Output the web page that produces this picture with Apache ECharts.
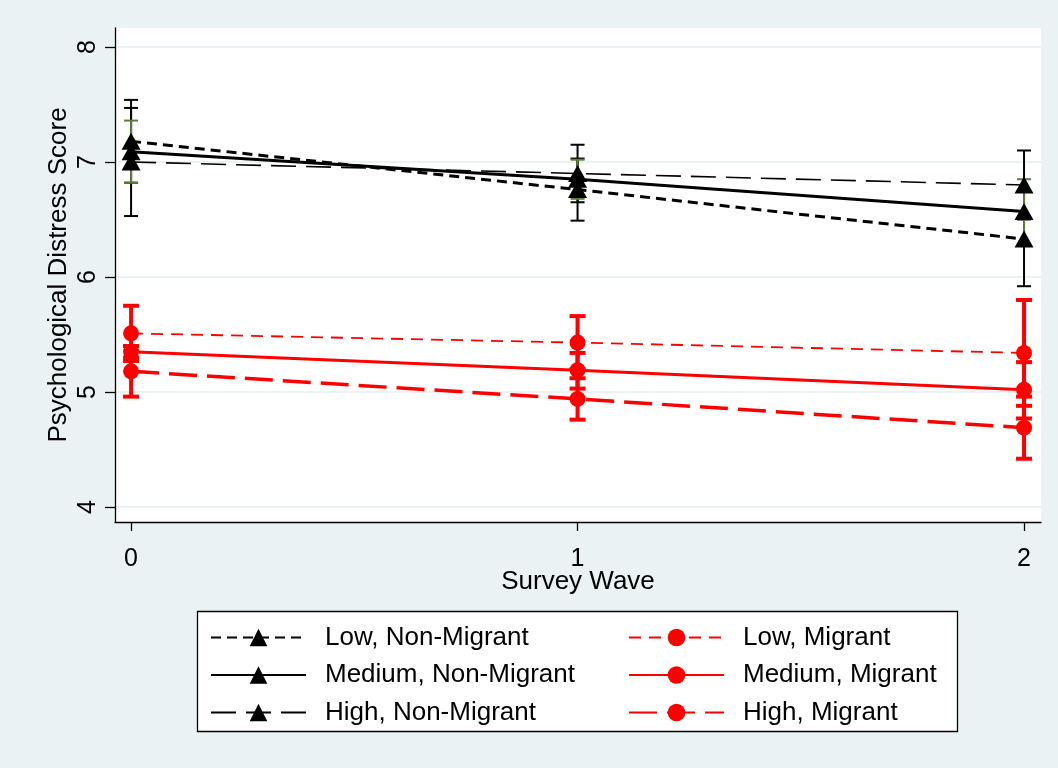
<!DOCTYPE html>
<html>
<head>
<meta charset="utf-8">
<script src="https://cdn.jsdelivr.net/npm/echarts@6/dist/echarts.min.js"></script>
<style>
  html, body { margin: 0; padding: 0; background: #EAF2F3; }
  #chart { width: 1058px; height: 768px; }
</style>
</head>
<body>
<div id="chart"></div>
<script>
// survey waves (x) and tick values
var waves = [0, 1, 2];
var yTicks = [4, 5, 6, 7, 8];

// Non-migrant groups: mean, lower CI, upper CI
var lowNM = [7.18, 6.76, 6.33];
var lowNMLo = [6.82, 6.49, 5.92];
var lowNMHi = [7.54, 7.03, 6.74];

var medNM = [7.09, 6.85, 6.57];
var medNMLo = [6.82, 6.68, 6.29];
var medNMHi = [7.36, 7.02, 6.85];

var highNM = [7.00, 6.90, 6.80];
var highNMLo = [6.53, 6.65, 6.50];
var highNMHi = [7.47, 7.15, 7.10];

// Migrant groups
var lowM = [5.51, 5.43, 5.34];
var lowMLo = [5.27, 5.20, 4.88];
var lowMHi = [5.75, 5.66, 5.80];

var medM = [5.35, 5.19, 5.02];
var medMLo = [5.30, 5.03, 4.77];
var medMHi = [5.40, 5.34, 5.26];

var highM = [5.18, 4.94, 4.69];
var highMLo = [4.96, 4.76, 4.42];
var highMHi = [5.40, 5.12, 4.96];

var FONT = "'Liberation Sans', Arial, sans-serif";
var BLACK = '#000000', RED = '#ff0000', OLIVE = '#5e7d3a';

function pts(ys) {
    return waves.map(function (x, i) { return [x, ys[i]]; });
}
function ciPts(lo, hi) {
    return waves.map(function (x, i) { return [x, lo[i], hi[i]]; });
}

// draws a vertical CI bar with caps
function ciRender(color, width, cap) {
    return function (params, api) {
        var x = api.value(0);
        var a = api.coord([x, api.value(1)]);
        var b = api.coord([x, api.value(2)]);
        var st = { stroke: color, lineWidth: width };
        return {
            type: 'group',
            children: [
                { type: 'line', shape: { x1: a[0], y1: a[1], x2: b[0], y2: b[1] }, style: st },
                { type: 'line', shape: { x1: a[0] - cap, y1: a[1], x2: a[0] + cap, y2: a[1] }, style: st },
                { type: 'line', shape: { x1: b[0] - cap, y1: b[1], x2: b[0] + cap, y2: b[1] }, style: st }
            ]
        };
    };
}

function ciSeries(name, lo, hi, color, width, cap) {
    return {
        name: name,
        type: 'custom',
        renderItem: ciRender(color, width, cap),
        data: ciPts(lo, hi),
        encode: { x: 0, y: [1, 2] },
        z: 2,
        silent: true
    };
}

function lineSeries(name, ys, color, width, dash, symbol, size) {
    return {
        name: name,
        type: 'line',
        data: pts(ys),
        symbol: symbol,
        symbolSize: size,
        color: color,
        itemStyle: { color: color },
        lineStyle: { color: color, width: width, type: dash },
        z: 3,
        animation: false
    };
}

var chart = echarts.init(document.getElementById('chart'));

var legendText = { fontSize: 26, color: '#000', fontFamily: FONT, lineHeight: 27, padding: [0, 0, 0, 14] };

var option = {
    backgroundColor: '#EAF2F3',
    animation: false,
    textStyle: { fontFamily: FONT },
    grid: {
        left: 115, right: 17, top: 28, bottom: 246,
        show: true, backgroundColor: '#ffffff', borderWidth: 0
    },
    xAxis: {
        type: 'value',
        min: -0.036, max: 2.038,
        name: 'Survey Wave',
        nameLocation: 'middle',
        nameGap: 47,
        nameMoveOverlap: false,
        nameTextStyle: { fontSize: 26, color: '#000', fontFamily: FONT },
        axisLine: { show: true, onZero: false, lineStyle: { color: '#000', width: 1.3 } },
        axisTick: { show: true, length: 9, customValues: waves, lineStyle: { color: '#000', width: 1.3 } },
        axisLabel: { customValues: waves, fontSize: 25, color: '#000', margin: 25, fontFamily: FONT },
        splitLine: { show: false }
    },
    yAxis: {
        type: 'value',
        min: 3.87, max: 8.165,
        name: 'Psychological Distress Score',
        nameLocation: 'middle',
        nameGap: 43,
        nameMoveOverlap: false,
        nameTextStyle: { fontSize: 26, color: '#000', fontFamily: FONT },
        axisLine: { show: true, onZero: false, lineStyle: { color: '#000', width: 1.3 } },
        axisTick: { show: true, length: 10, customValues: yTicks, lineStyle: { color: '#000', width: 1.3 } },
        axisLabel: { customValues: yTicks, rotate: 90, fontSize: 25, color: '#000', margin: 14, fontFamily: FONT },
        splitLine: { show: true, lineStyle: { color: '#EAF2F3', width: 2 } }
    },
    graphic: [{
        type: 'rect',
        z: 0,
        shape: { x: 197.5, y: 611.5, width: 760, height: 120 },
        style: { fill: '#ffffff', stroke: '#000', lineWidth: 1.3 }
    }],
    legend: [{
        orient: 'vertical',
        left: 210, top: 624, padding: 0,
        itemWidth: 95, itemHeight: 22, itemGap: 10.5,
        data: ['Low, Non-Migrant', 'Medium, Non-Migrant', 'High, Non-Migrant'],
        textStyle: legendText,
        selectedMode: false, z: 10
    }, {
        orient: 'vertical',
        left: 628, top: 624, padding: 0,
        itemWidth: 95, itemHeight: 22, itemGap: 10.5,
        data: ['Low, Migrant', 'Medium, Migrant', 'High, Migrant'],
        textStyle: legendText,
        selectedMode: false, z: 10
    }],
    series: [
        ciSeries('ci1', lowNMLo, lowNMHi, BLACK, 2, 7),
        ciSeries('ci3', highNMLo, highNMHi, BLACK, 2, 7),
        ciSeries('ci2', medNMLo, medNMHi, OLIVE, 2, 7),
        ciSeries('ci4', lowMLo, lowMHi, RED, 4, 8),
        ciSeries('ci5', medMLo, medMHi, RED, 4, 8),
        ciSeries('ci6', highMLo, highMHi, RED, 4, 8),
        lineSeries('Low, Non-Migrant', lowNM, BLACK, 3, [10, 6], 'triangle', [19, 17]),
        lineSeries('Medium, Non-Migrant', medNM, BLACK, 3, 'solid', 'triangle', [19, 17]),
        lineSeries('High, Non-Migrant', highNM, BLACK, 1.6, [25, 10], 'triangle', [19, 17]),
        lineSeries('Low, Migrant', lowM, RED, 1.8, [12, 8], 'circle', 16),
        lineSeries('Medium, Migrant', medM, RED, 3, 'solid', 'circle', 16),
        lineSeries('High, Migrant', highM, RED, 3.5, [28, 10], 'circle', 16)
    ]
};

chart.setOption(option);
</script>
</body>
</html>
